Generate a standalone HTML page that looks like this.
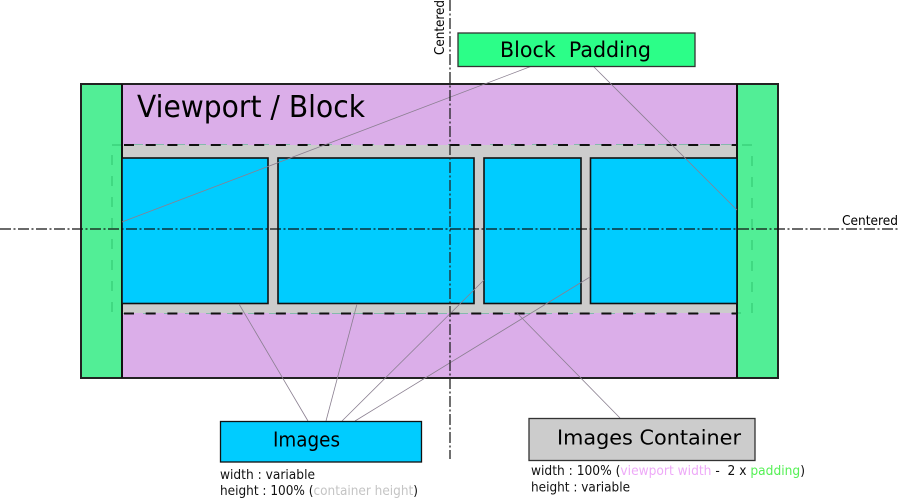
<!DOCTYPE html>
<html>
<head>
<meta charset="utf-8">
<style>
html,body{margin:0;padding:0;background:#fff;}
svg{display:block;}
text{font-family:"DejaVu Sans","Liberation Sans",sans-serif;}
</style>
</head>
<body>
<svg width="900" height="501" viewBox="0 0 900 501" xmlns="http://www.w3.org/2000/svg">
  <!-- purple viewport -->
  <rect x="81" y="84" width="697" height="294" fill="#dbaee9"/>
  <!-- green padding sides -->
  <rect x="81" y="84" width="41" height="294" fill="#52ee96"/>
  <rect x="737" y="84" width="41" height="294" fill="#52ee96"/>
  <!-- green dashed rect -->
  <rect x="112" y="145" width="640" height="168" fill="none" stroke="#2fc46f" stroke-width="1" stroke-dasharray="10,11"/>
  <!-- gray container -->
  <rect x="122" y="145" width="615" height="168" fill="#cccccc"/>
  <!-- outer border -->
  <rect x="81" y="84" width="697" height="294" fill="none" stroke="#222" stroke-width="2"/>
  <line x1="122" y1="84" x2="122" y2="378" stroke="#111" stroke-width="2"/>
  <line x1="737" y1="84" x2="737" y2="378" stroke="#111" stroke-width="2"/>
  <!-- dashed lines -->
  <line x1="124" y1="145" x2="737" y2="145" stroke="#111" stroke-width="2" stroke-dasharray="10,11.7"/>
  <line x1="124" y1="313.5" x2="737" y2="313.5" stroke="#111" stroke-width="2" stroke-dasharray="10,11.7"/>
  <!-- images -->
  <rect x="122" y="158" width="146" height="145.5" fill="#00ccff" stroke="#111" stroke-width="1.6"/>
  <rect x="278" y="158" width="196" height="145.5" fill="#00ccff" stroke="#111" stroke-width="1.6"/>
  <rect x="484" y="158" width="97" height="145.5" fill="#00ccff" stroke="#111" stroke-width="1.6"/>
  <rect x="590.5" y="158" width="146.5" height="145.5" fill="#00ccff" stroke="#111" stroke-width="1.6"/>

  <text x="137" y="117" font-size="30" textLength="228" lengthAdjust="spacingAndGlyphs" fill="#000">Viewport / Block</text>

  <!-- leader lines -->
  <g stroke="#8a7f90" stroke-width="0.8" fill="none">
    <line x1="122" y1="222" x2="532" y2="66"/>
    <line x1="593" y1="66" x2="737" y2="210"/>
    <line x1="239" y1="304" x2="308" y2="421"/>
    <line x1="357" y1="304" x2="326" y2="421"/>
    <line x1="484" y1="280" x2="342" y2="421"/>
    <line x1="590" y1="277" x2="355" y2="421"/>
    <line x1="517" y1="313" x2="620" y2="418"/>
  </g>

  <!-- centered lines -->
  <line x1="0" y1="229" x2="900" y2="229" stroke="#111" stroke-width="1.3" stroke-dasharray="11,2.5,2,2.5"/>
  <line x1="450" y1="0" x2="450" y2="459" stroke="#222" stroke-width="1.3" stroke-dasharray="11,2.5,2,2.5"/>

  <text x="842" y="225" font-size="13" textLength="56" lengthAdjust="spacingAndGlyphs" fill="#000">Centered</text>
  <text transform="translate(444,55) rotate(-90)" x="0" y="0" font-size="13" textLength="55" lengthAdjust="spacingAndGlyphs" fill="#000">Centered</text>

  <!-- Block Padding label -->
  <rect x="458" y="33" width="237" height="33.5" fill="#2cfe88" stroke="#333" stroke-width="1.3"/>
  <text x="500" y="57" font-size="21" textLength="151" lengthAdjust="spacingAndGlyphs" fill="#000">Block&#160;&#160;Padding</text>

  <!-- Images label -->
  <rect x="220.5" y="421.5" width="201" height="40.5" fill="#00ccff" stroke="#111" stroke-width="1.3"/>
  <text x="273" y="446.5" font-size="20" textLength="67" lengthAdjust="spacingAndGlyphs" fill="#000">Images</text>
  <text x="220" y="479" font-size="13.5" textLength="95" lengthAdjust="spacingAndGlyphs" fill="#111">width : variable</text>
  <text x="220" y="495" font-size="13.5" textLength="198" lengthAdjust="spacingAndGlyphs" fill="#111">height : 100% (<tspan fill="#c4c4c4">container height</tspan>)</text>

  <!-- Images Container label -->
  <rect x="529" y="418.5" width="226" height="42" fill="#cccccc" stroke="#333" stroke-width="1.3"/>
  <text x="557" y="444.5" font-size="20" textLength="184" lengthAdjust="spacingAndGlyphs" fill="#000">Images Container</text>
  <text x="531" y="475" font-size="13.5" textLength="274" lengthAdjust="spacingAndGlyphs" fill="#111">width : 100% (<tspan fill="#eeaaf8">viewport width</tspan> -&#160; 2 x <tspan fill="#55f055">padding</tspan>)</text>
  <text x="531" y="491.5" font-size="13.5" textLength="99" lengthAdjust="spacingAndGlyphs" fill="#111">height : variable</text>
</svg>
</body>
</html>
